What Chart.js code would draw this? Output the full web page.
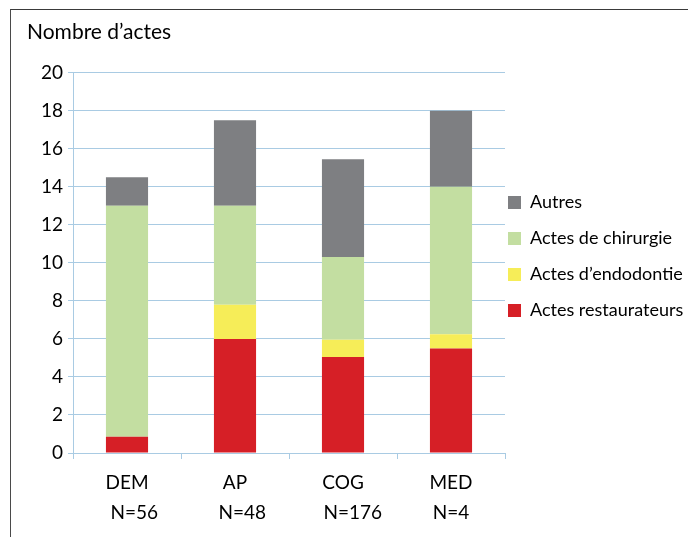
<!DOCTYPE html>
<html>
<head>
<meta charset="utf-8">
<script src="https://cdn.jsdelivr.net/npm/chart.js@4/dist/chart.umd.min.js"></script>
<style>
  html, body { margin: 0; padding: 0; background: #ffffff; }
  #wrap { position: relative; width: 688px; height: 537px; overflow: hidden; }
  #frame { position: absolute; left: 10px; top: 9px; width: 700px; height: 560px;
           border-top: 1.5px solid #3a3a3a; border-left: 1.5px solid #4a4a4a; pointer-events: none; }
  canvas { position: absolute; left: 0; top: 0; }
</style>
</head>
<body>
<div id="wrap">
  <canvas id="c" width="688" height="537"></canvas>
  <div id="frame"></div>
</div>
<script>
// ---- data ----
const categories = ['DEM', 'AP', 'COG', 'MED'];
const sampleSizes = ['N=56', 'N=48', 'N=176', 'N=4'];
const restaurateurs = [0.85, 6.0, 5.05, 5.5];
const endodontie = [0, 1.8, 0.9, 0.75];
const chirurgie = [12.15, 5.2, 4.35, 7.75];
const autres = [1.5, 4.5, 5.15, 4.0];
const seriesNames = ['Actes restaurateurs', "Actes d\u2019endodontie", 'Actes de chirurgie', 'Autres'];
const yTitle = "Nombre d\u2019actes";
const yMin = 0, yMax = 20, yStep = 2;

// ---- presentation ----
const indents = ['   ', '   ', '    ', ''];
const labels = categories.map((c, i) => [c, indents[i] + sampleSizes[i]]);
const colors = ['#D61F26', '#F6ED58', '#C3DEA1', '#7E7F82'];
const gridBlue = '#a9cbe3';
const FONT = 'Lato';

const legendMover = {
  id: 'legendMover',
  afterLayout(chart) {
    const lg = chart.legend;
    const h = lg.height;
    lg.left = 490; lg.right = 688; lg.width = 198;
    lg.top = 175.5; lg.bottom = 175.5 + h;
  }
};

new Chart(document.getElementById('c'), {
  type: 'bar',
  data: {
    labels: labels,
    datasets: [restaurateurs, endodontie, chirurgie, autres].map((d, i) => ({
      label: seriesNames[i],
      data: d,
      backgroundColor: colors[i],
      borderWidth: 0,
      barPercentage: 0.39,
      categoryPercentage: 1.0
    }))
  },
  options: {
    responsive: false,
    animation: false,
    devicePixelRatio: 1,
    layout: { padding: { left: 27, top: 0, right: 0, bottom: 0 } },
    plugins: {
      title: {
        display: true, text: yTitle, align: 'start', color: '#000',
        font: { family: FONT, size: 21, weight: 'normal', lineHeight: 1.2 },
        padding: { top: 19.4, bottom: 28 }
      },
      legend: {
        position: 'right', align: 'start', reverse: true, maxWidth: 183,
        labels: {
          boxWidth: 13, boxHeight: 13, padding: 18, color: '#000',
          font: { family: FONT, size: 18 }
        }
      },
      tooltip: { enabled: false }
    },
    scales: {
      x: {
        stacked: true,
        border: { color: gridBlue, width: 1 },
        grid: { drawOnChartArea: false, drawTicks: true, tickLength: 6, color: gridBlue, offset: true },
        ticks: { color: '#000', padding: 9, maxRotation: 0, autoSkip: false,
                 font: { family: FONT, size: 19, lineHeight: '30px' } },
        afterFit: s => { s.height = 84; }
      },
      y: {
        stacked: true, min: yMin, max: yMax,
        border: { color: gridBlue, width: 1 },
        grid: { color: gridBlue, tickLength: 5, drawTicks: true },
        ticks: { stepSize: yStep, color: '#000', padding: 5,
                 font: { family: FONT, size: 19 } },
        afterFit: s => { s.width = 46; }
      }
    }
  },
  plugins: [legendMover]
});
</script>
</body>
</html>
